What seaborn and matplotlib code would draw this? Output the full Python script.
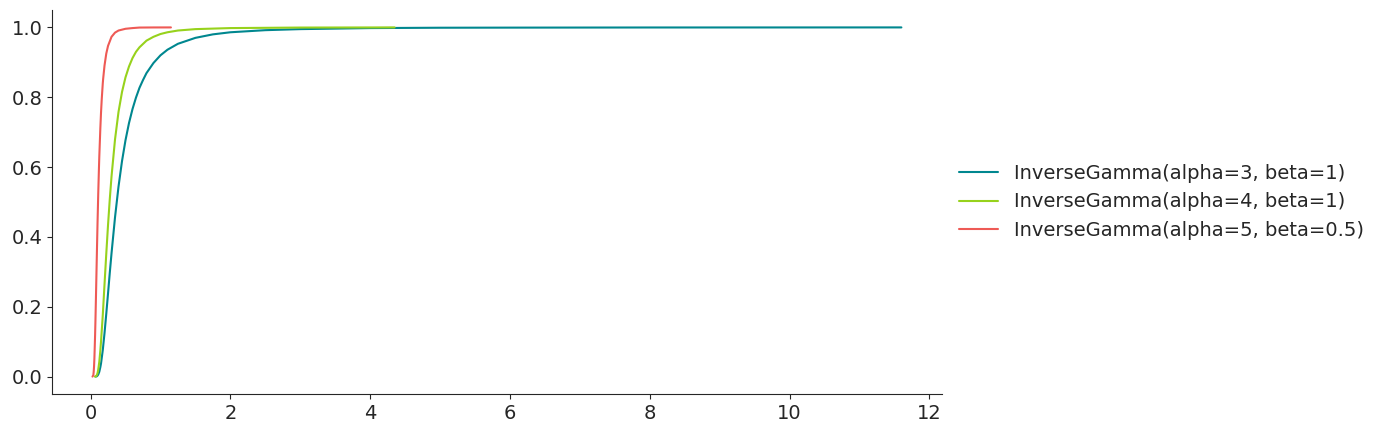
import seaborn as sns
import pandas as pd
import matplotlib.pyplot as plt

# values (x, cumulative probability)
x_a3 = [0.071, 0.08, 0.09, 0.1, 0.11, 0.125, 0.14, 0.15, 0.175, 0.2, 0.225, 0.25, 0.275,
        0.3, 0.35, 0.4, 0.45, 0.5, 0.55, 0.6, 0.65, 0.7, 0.75, 0.8, 0.9, 1.0, 1.1, 1.25,
        1.5, 1.75, 2.0, 2.5, 3.0, 4.0, 5.0, 6.0, 8.0, 10.0, 11.6]
y_a3 = [0.0001, 0.0003, 0.0011, 0.003, 0.006, 0.0137, 0.027, 0.038, 0.076, 0.125, 0.180,
        0.238, 0.297, 0.353, 0.456, 0.544, 0.617, 0.677, 0.726, 0.766, 0.799, 0.827, 0.849,
        0.869, 0.898, 0.920, 0.936, 0.953, 0.970, 0.980, 0.986, 0.992, 0.995, 0.998, 0.999,
        0.9993, 0.9997, 0.9998, 0.9999]

x_a4 = [0.0625, 0.07, 0.08, 0.09, 0.1, 0.11, 0.125, 0.14, 0.15, 0.175, 0.2, 0.225, 0.25,
        0.275, 0.3, 0.35, 0.4, 0.45, 0.5, 0.55, 0.6, 0.65, 0.7, 0.8, 0.9, 1.0, 1.1, 1.25,
        1.5, 2.0, 3.0, 4.35]
y_a4 = [0.0001, 0.0004, 0.001, 0.0045, 0.010, 0.020, 0.042, 0.075, 0.101, 0.176, 0.265,
        0.352, 0.434, 0.508, 0.573, 0.679, 0.758, 0.815, 0.857, 0.888, 0.912, 0.930, 0.943,
        0.962, 0.973, 0.981, 0.986, 0.991, 0.995, 0.998, 0.9995, 0.9999]

x_a5 = [0.028, 0.04, 0.045, 0.05, 0.055, 0.06, 0.065, 0.07, 0.075, 0.08, 0.09, 0.1, 0.11,
        0.12, 0.125, 0.14, 0.15, 0.16, 0.175, 0.18, 0.2, 0.225, 0.25, 0.3, 0.35, 0.4, 0.5,
        0.6, 0.7, 0.9, 1.15]
y_a5 = [0.0001, 0.004, 0.014, 0.029, 0.052, 0.085, 0.119, 0.160, 0.206, 0.253, 0.348,
        0.441, 0.524, 0.596, 0.629, 0.711, 0.757, 0.794, 0.840, 0.852, 0.891, 0.925, 0.947,
        0.973, 0.985, 0.991, 0.996, 0.998, 0.9995, 0.9998, 0.9999]

labels = ['InverseGamma(alpha=3, beta=1)', 'InverseGamma(alpha=4, beta=1)',
          'InverseGamma(alpha=5, beta=0.5)']
colors = ['#00878f', '#97d21c', '#ee5a55']

df = pd.concat([
    pd.DataFrame({'x': x_a3, 'cdf': y_a3, 'dist': labels[0]}),
    pd.DataFrame({'x': x_a4, 'cdf': y_a4, 'dist': labels[1]}),
    pd.DataFrame({'x': x_a5, 'cdf': y_a5, 'dist': labels[2]}),
])

sns.set_style('ticks')
plt.rcParams['font.size'] = 14

fig, ax = plt.subplots(figsize=(13.81, 4.33), dpi=100)
fig.subplots_adjust(left=0.0377, right=0.682, top=0.977, bottom=0.09)
sns.lineplot(data=df, x='x', y='cdf', hue='dist', palette=colors, ax=ax,
             linewidth=1.5, sort=False)
sns.despine()
ax.set_xlabel('')
ax.set_ylabel('')
ax.tick_params(labelsize=14)
ax.legend(loc='center left', bbox_to_anchor=(1.0, 0.5), frameon=False, fontsize=14)
fig.savefig('out.png')
